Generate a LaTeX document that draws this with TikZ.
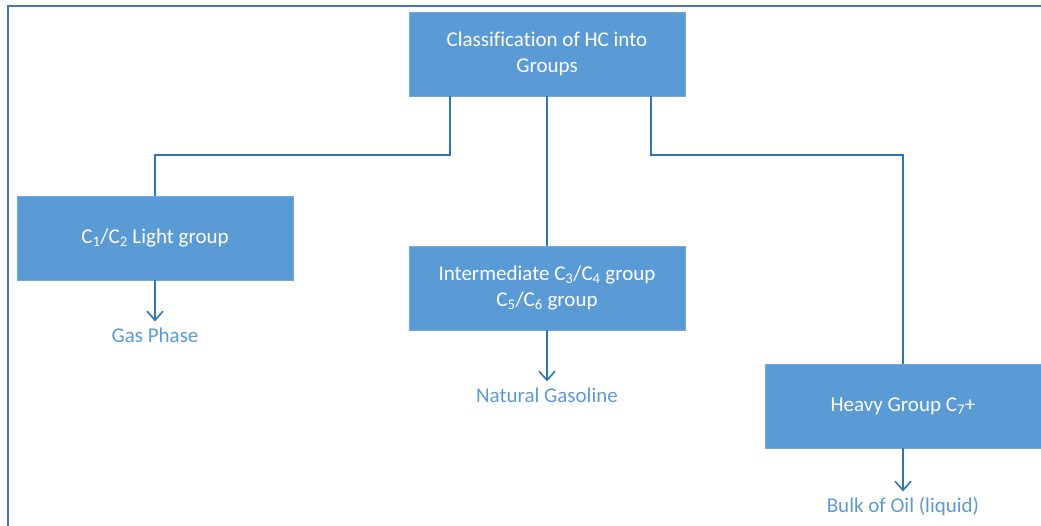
\documentclass[tikz,border=0pt]{standalone}
\usepackage{fontspec}
\setmainfont[Ligatures=NoCommon]{Carlito}
\usepackage{xcolor}
\usetikzlibrary{positioning, arrows.meta}
\definecolor{boxblue}{HTML}{5B9BD5}
\definecolor{lineblue}{HTML}{2E75B6}
\definecolor{frameblue}{HTML}{4472C4}
\tikzset{
  group/.style={rectangle, fill=boxblue, draw=boxblue!85!white, text=white,
    minimum width=276pt, minimum height=84pt, align=center,
    font=\fontsize{21}{26}\selectfont},
  result/.style={text=boxblue, inner sep=0pt, font=\fontsize{21}{24}\selectfont},
  link/.style={draw=lineblue, line width=1.6pt},
  flow/.style={link, -{Straight Barb[length=9pt, width=16pt]}, shorten >=6pt}
}

\begin{document}
\begin{tikzpicture}[x=1pt, y=-1pt, node distance=2.5cm, on grid]
   \useasboundingbox (0,0) rectangle (1041,526);
   % frame
   \draw[frameblue, line width=2.2pt] (8,526) -- (8,6) -- (1041,6);

   \node[group] (top) at (547,54) {Classification of HC into\\Groups};
   \node[group] (light) [below left=184pt and 392pt of top] {C\textsubscript{1}/C\textsubscript{2} Light group};
   \node[group] (inter) [below=234pt of top] {Intermediate C\textsubscript{3}/C\textsubscript{4} group\\C\textsubscript{5}/C\textsubscript{6} group};
   \node[group] (heavy) [below right=352pt and 356pt of top] {Heavy Group C\textsubscript{7}+};

   \node[result] (gas) [below=97pt of light] {Gas Phase};
   \node[result] (gasoline) [below=107pt of inter] {Natural Gasoline};
   \node[result] (oil) [below=101pt of heavy] {Bulk of Oil (liquid)};

   \draw[link] ([xshift=-97pt]top.south) -- ++(0,59) -| (light.north);
   \draw[link] (top.south) -- (inter.north);
   \draw[link] ([xshift=104pt]top.south) -- ++(0,59) -| (heavy.north);

   % outcomes
   \draw[flow] (light.south) -- (gas.north);
   \draw[flow] (inter.south) -- (gasoline.north);
   \draw[flow] (heavy.south) -- (oil.north);
\end{tikzpicture}
\end{document}
